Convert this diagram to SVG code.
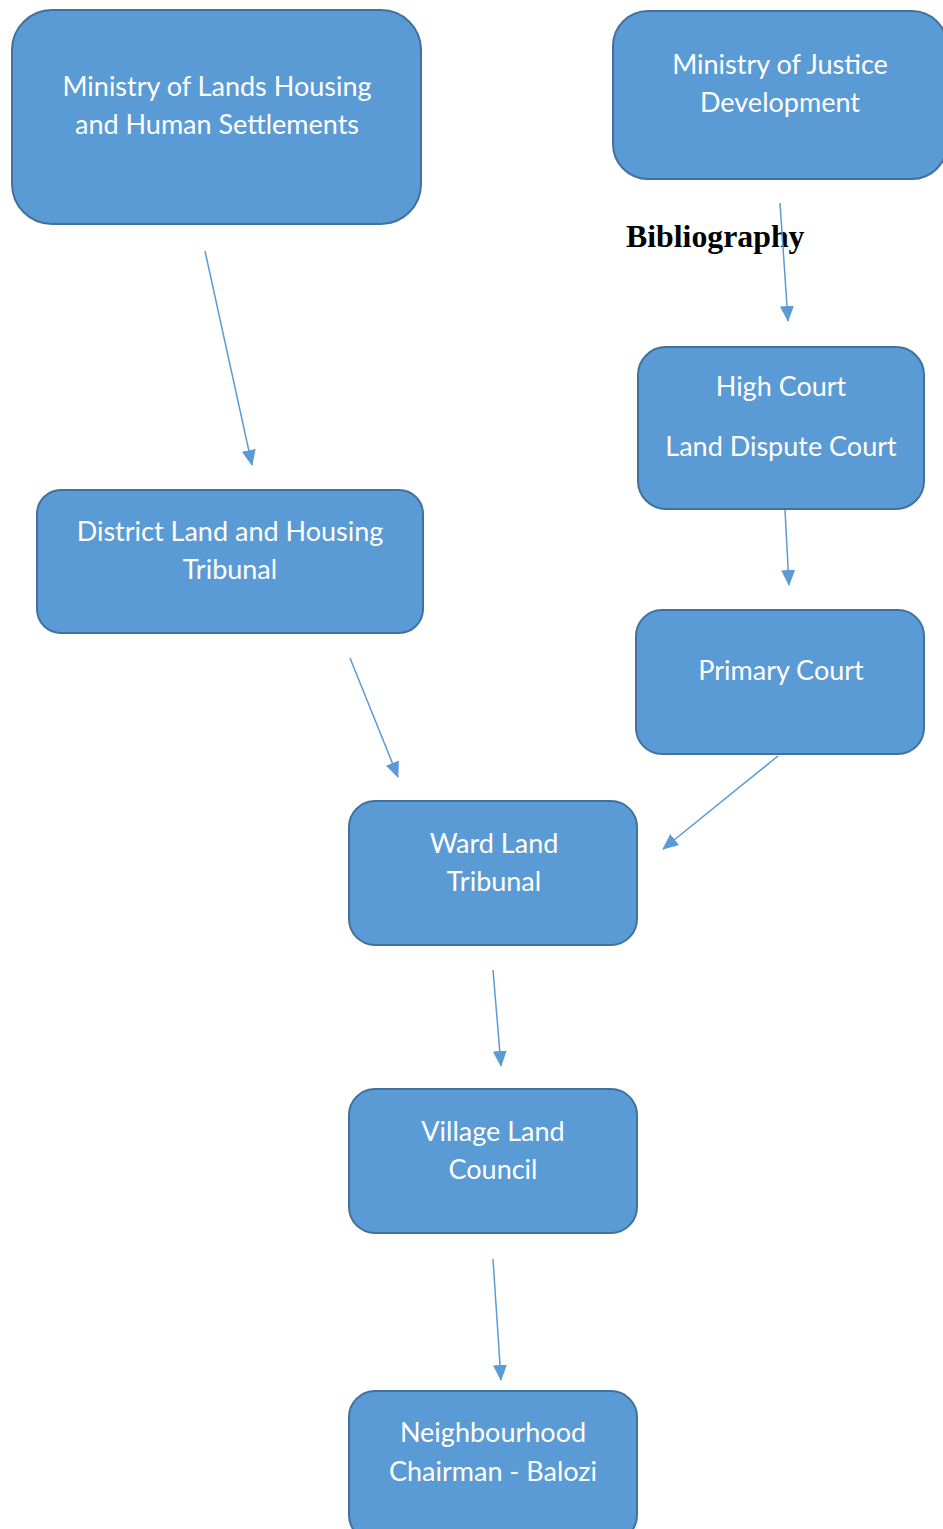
<svg xmlns="http://www.w3.org/2000/svg" width="943" height="1529" viewBox="0 0 943 1529">
<defs>
<style>
.box{fill:#5B9BD5;stroke:#41719C;stroke-width:2}
.t{font-family:Lato,"Open Sans","Liberation Sans",sans-serif;font-size:27px;fill:#ffffff;text-anchor:middle}
.c{stroke:#5B9BD5;stroke-width:1.5;fill:none;marker-end:url(#ah)}
.bib{font-family:"Liberation Serif","Times New Roman",serif;font-weight:bold;font-size:31.8px;fill:#000000}
</style>
<marker id="ah" markerUnits="userSpaceOnUse" markerWidth="16" markerHeight="14" viewBox="0 0 16 14" refX="15" refY="7" orient="auto">
<path d="M0,0 L16,7 L0,14 Z" fill="#5B9BD5"/>
</marker>
</defs>
<rect width="943" height="1529" fill="#ffffff"/>
<g id="n1"><rect class="box" x="12" y="10" width="409" height="214" rx="40"/>
<text class="t" x="217" y="96">Ministry of Lands Housing</text><text class="t" x="217" y="134">and Human Settlements</text></g>
<g id="n2"><rect class="box" x="613" y="11" width="334" height="168" rx="35"/>
<text class="t" x="780" y="74">Ministry of Justice</text><text class="t" x="780" y="112">Development</text></g>
<g id="n3"><rect class="box" x="638" y="347" width="286" height="162" rx="28"/>
<text class="t" x="781" y="396">High Court</text><text class="t" x="781" y="456">Land Dispute Court</text></g>
<g id="n4"><rect class="box" x="37" y="490" width="386" height="143" rx="24"/>
<text class="t" x="230" y="541">District Land and Housing</text><text class="t" x="230" y="579">Tribunal</text></g>
<g id="n5"><rect class="box" x="636" y="610" width="288" height="144" rx="26"/>
<text class="t" x="781" y="680">Primary Court</text></g>
<g id="n6"><rect class="box" x="349" y="801" width="288" height="144" rx="26"/>
<text class="t" x="494" y="853">Ward Land</text><text class="t" x="494" y="891">Tribunal</text></g>
<g id="n7"><rect class="box" x="349" y="1089" width="288" height="144" rx="26"/>
<text class="t" x="493" y="1141">Village Land</text><text class="t" x="493" y="1179">Council</text></g>
<g id="n8"><rect class="box" x="349" y="1391" width="288" height="150" rx="26"/>
<text class="t" x="493" y="1442">Neighbourhood</text><text class="t" x="493" y="1481">Chairman - Balozi</text></g>
<text class="bib" x="626" y="247">Bibliography</text>
<g id="connectors">
<line class="c" x1="205" y1="251" x2="252" y2="465"/>
<line class="c" x1="780" y1="203" x2="788" y2="321"/>
<line class="c" x1="785" y1="510" x2="789" y2="585"/>
<line class="c" x1="350" y1="658" x2="398" y2="777"/>
<line class="c" x1="778" y1="756" x2="663" y2="849"/>
<line class="c" x1="493" y1="970" x2="501" y2="1066"/>
<line class="c" x1="493" y1="1259" x2="501" y2="1380"/>
</g>
</svg>
